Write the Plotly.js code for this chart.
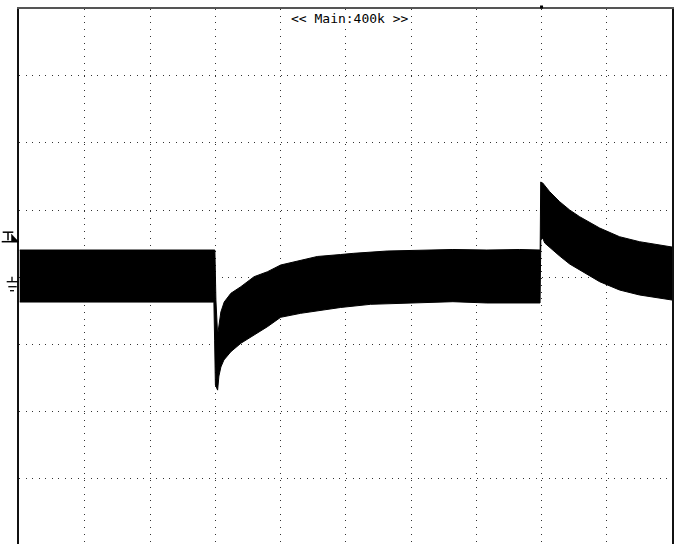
<!DOCTYPE html>
<html>
<head>
<meta charset="utf-8">
<script src="https://cdn.plot.ly/plotly-3.0.1.min.js"></script>
<style>html,body{margin:0;padding:0;background:#fff;}#chart{width:674px;height:544px;}</style>
</head>
<body>
<div id="chart"></div>
<script>
// Oscilloscope capture, values in screen divisions (x: time div, y: vertical div)
const timeUpper = [0, 2.992, 3.008, 3.034, 3.084, 3.135, 3.237, 3.390, 3.593, 3.798, 4.001, 4.307, 4.563, 4.919, 5.118, 5.633, 6.136, 6.641, 7.161, 7.665, 7.979, 7.987, 8.018, 8.125, 8.278, 8.431, 8.584, 8.890, 9.196, 9.502, 10.0];
const voltUpper = [0.406, 0.406, -0.338, -0.859, -0.516, -0.368, -0.238, -0.140, 0.009, 0.083, 0.183, 0.257, 0.310, 0.339, 0.357, 0.391, 0.406, 0.414, 0.406, 0.414, 0.406, 1.418, 1.403, 1.274, 1.125, 1.002, 0.902, 0.734, 0.604, 0.530, 0.451];
const timeLower = [0, 2.977, 2.988, 3.000, 3.034, 3.054, 3.084, 3.130, 3.237, 3.390, 3.593, 3.798, 4.001, 4.307, 4.563, 4.919, 5.378, 5.883, 6.641, 7.161, 7.977, 7.989, 8.018, 8.049, 8.125, 8.278, 8.431, 8.584, 8.890, 9.196, 9.502, 10.0];
const voltLower = [-0.368, -0.369, -0.935, -1.603, -1.679, -1.469, -1.335, -1.231, -1.107, -0.982, -0.859, -0.735, -0.595, -0.536, -0.497, -0.449, -0.402, -0.387, -0.363, -0.382, -0.382, 0.555, 0.585, 0.510, 0.443, 0.317, 0.198, 0.109, -0.065, -0.189, -0.263, -0.338];
const triggerTime = 8;
const triggerLevel = 0.53;
const groundLevel = 0;
const headerText = '&lt;&lt; Main:400k &gt;&gt;';

const polyX = timeUpper.concat(timeLower.slice().reverse());
const polyY = voltUpper.concat(voltLower.slice().reverse());

const trace = {
  type: 'scatter', mode: 'lines', x: polyX, y: polyY,
  fill: 'toself', fillcolor: '#000', line: {color: '#000', width: 1},
  hoverinfo: 'skip'
};

function pxLine(xref, yref, xa, ya, x0, y0, x1, y1, w) {
  return {type: 'line', xref: xref, yref: yref, xsizemode: 'pixel', ysizemode: 'pixel',
    xanchor: xa, yanchor: ya, x0: x0, y0: y0, x1: x1, y1: y1, line: {color: '#000', width: w}};
}

const shapes = [
  {type: 'rect', xref: 'x', yref: 'paper', xsizemode: 'pixel', ysizemode: 'pixel',
   xanchor: triggerTime, yanchor: 1, x0: -1.5, x1: 1.5, y0: 0.5, y1: 3.5,
   fillcolor: '#000', line: {width: 0}},
  pxLine('paper', 'y', 0, triggerLevel, -16.3, 9.5, -5.7, 9.5, 1.5),
  pxLine('paper', 'y', 0, triggerLevel, -11, 9.5, -11, 1.5, 1.5),
  pxLine('paper', 'y', 0, triggerLevel, -17.3, 0, -1, 0, 1.5),
  {type: 'path', xref: 'paper', yref: 'y', xsizemode: 'pixel', ysizemode: 'pixel',
   xanchor: 0, yanchor: triggerLevel, path: 'M-7.5,7.5 L-7.5,0 L-0.5,0 Z',
   fillcolor: '#000', line: {color: '#000', width: 0.5}},
  pxLine('paper', 'y', 0, groundLevel, -7, 0.6, -7, -4.4, 1.3),
  pxLine('paper', 'y', 0, groundLevel, -12.3, -4.4, -0.7, -4.4, 1.3),
  pxLine('paper', 'y', 0, groundLevel, -10.7, -9.4, -2.3, -9.4, 1.3),
  pxLine('paper', 'y', 0, groundLevel, -9, -13.4, -5, -13.4, 1.3)
];

const layout = {
  width: 674, height: 544,
  margin: {l: 19, r: 2, t: 9, b: 0, pad: 0},
  paper_bgcolor: '#fff', plot_bgcolor: '#fff',
  showlegend: false,
  xaxis: {
    range: [-0.011, 10], tick0: 0, dtick: 1, showticklabels: false, ticks: '',
    showgrid: true, gridcolor: '#333', gridwidth: 1, griddash: '1px,5.73px',
    zeroline: false, showline: true, linecolor: '#555', linewidth: 2, mirror: true,
    fixedrange: true
  },
  yaxis: {
    range: [-3.969, 3.993], tick0: 0, dtick: 1, showticklabels: false, ticks: '',
    showgrid: true, gridcolor: '#333', gridwidth: 1, griddash: '1px,5.54px',
    zeroline: false, showline: true, linecolor: '#111', linewidth: 2, mirror: true,
    fixedrange: true
  },
  shapes: shapes,
  annotations: [{
    text: headerText, xref: 'paper', yref: 'paper', x: 0.507, y: 1,
    xanchor: 'center', yanchor: 'top', showarrow: false, yshift: -1,
    bgcolor: '#fff', borderpad: 0,
    font: {family: 'DejaVu Sans Mono', size: 13, color: '#000'}
  }]
};

Plotly.newPlot('chart', [trace], layout, {staticPlot: true, displayModeBar: false});
</script>
</body>
</html>
